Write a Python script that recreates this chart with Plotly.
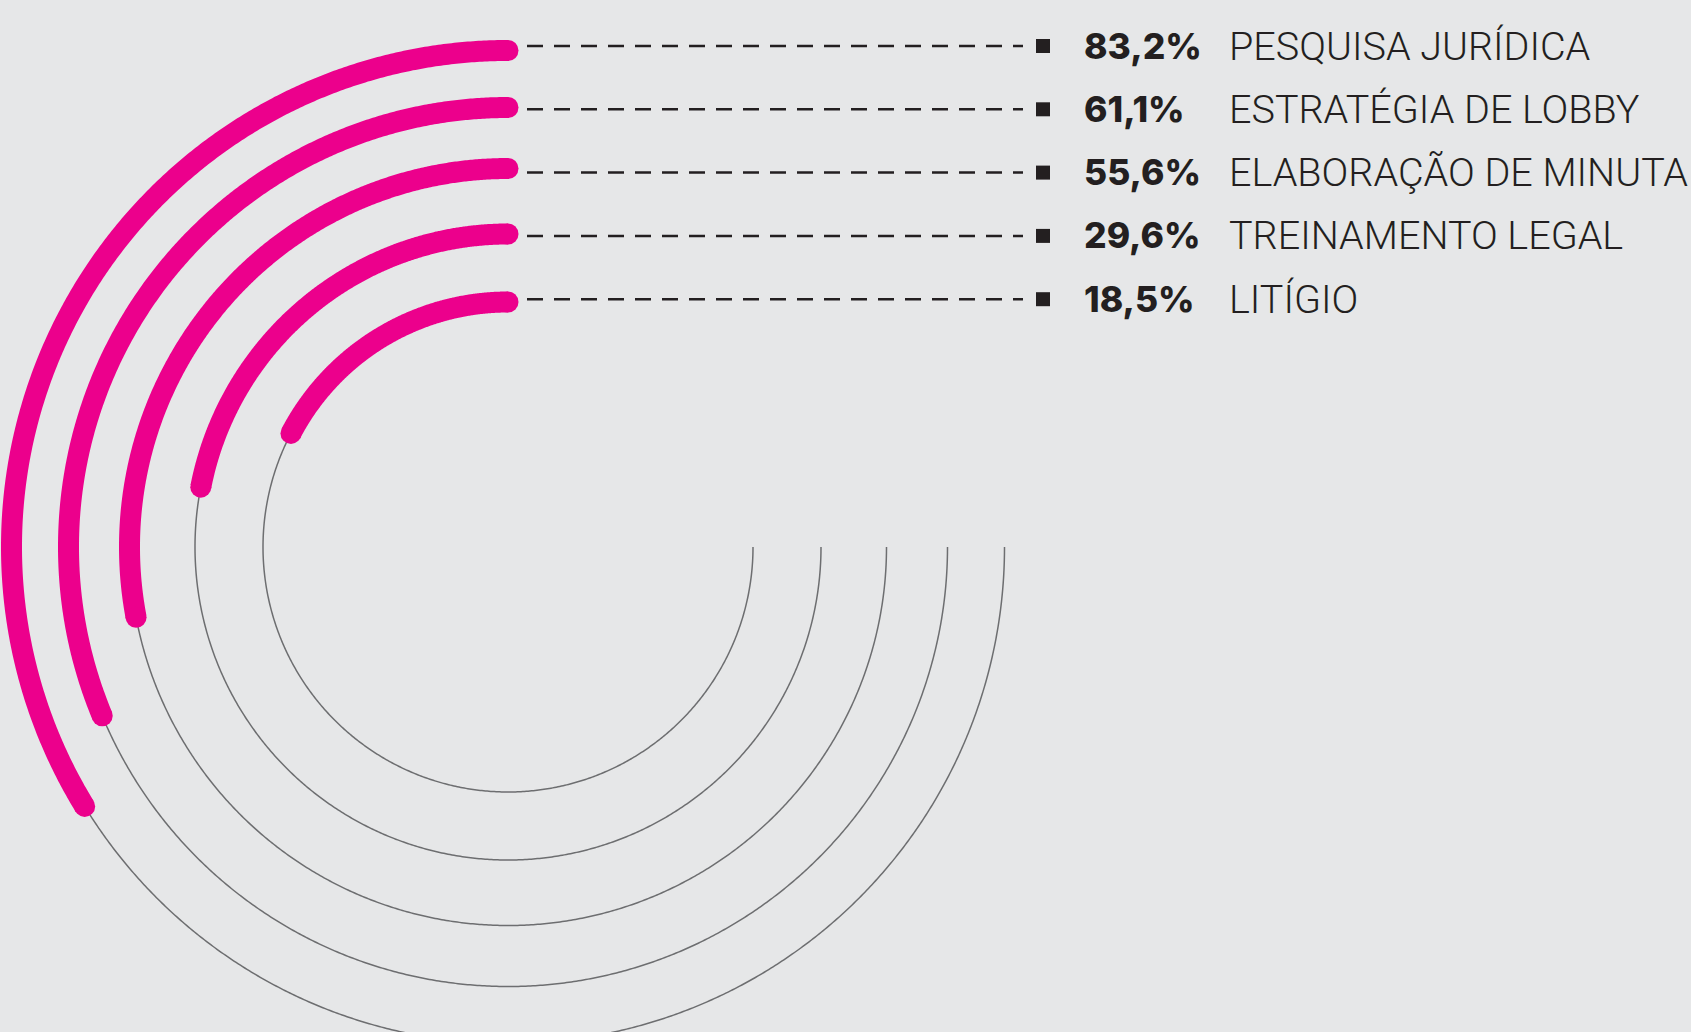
import numpy as np
import plotly.graph_objects as go

# ---------------- data ----------------
categories = ["PESQUISA JURÍDICA", "ESTRATÉGIA DE LOBBY", "ELABORAÇÃO DE MINUTA",
              "TREINAMENTO LEGAL", "LITÍGIO"]
values = [83.2, 61.1, 55.6, 29.6, 18.5]
value_labels = ["83,2%", "61,1%", "55,6%", "29,6%", "18,5%"]
# extent of each pink arc as drawn in the original graphic (% of the 270° track)
arc_drawn_pct = [45.0, 41.7, 37.3, 29.25, 23.1]

# ---------------- layout constants ----------------
W, H = 1691, 1032
CX, CY = 508, 547          # centre of the rings (axis units = px)
RING_R = [496.5, 439.5, 378.5, 313, 245]
TRACK_DEG = 270
PINK = "#ec008c"
GRAY = "#6d6e70"
INK = "#231f20"
BG = "#e6e7e8"
ROW0, ROW_STEP = 46, 63.3
DASH_X = (527, 1023)
SQUARE_X = 1043
VALUE_X, LABEL_X = 1082, 1227


def arc_xy(radius, deg_from, deg_to, n):
    """Points of an arc measured counter-clockwise from 12 o'clock."""
    phi = np.radians(np.linspace(deg_from, deg_to, n))
    return CX - radius * np.sin(phi), CY - radius * np.cos(phi)


fig = go.Figure()

# gray tracks (remaining part of the 270° track)
for i, cat in enumerate(categories):
    sweep = arc_drawn_pct[i] / 100 * TRACK_DEG
    x, y = arc_xy(RING_R[i], sweep, TRACK_DEG, 500)
    fig.add_trace(go.Scatter(x=x, y=y, mode="lines",
                             line=dict(color=GRAY, width=1.5, simplify=False),
                             hoverinfo="skip", showlegend=False))

# pink arcs with round caps
for i, cat in enumerate(categories):
    sweep = arc_drawn_pct[i] / 100 * TRACK_DEG
    x, y = arc_xy(RING_R[i], 0, sweep, 400)
    fig.add_trace(go.Scatter(x=x, y=y, mode="lines",
                             line=dict(color=PINK, width=21, simplify=False),
                             name=f"{cat} {value_labels[i]}", hoverinfo="name",
                             showlegend=False))
    fig.add_trace(go.Scatter(x=[x[0], x[-1]], y=[y[0], y[-1]], mode="markers",
                             marker=dict(size=21, color=PINK, line=dict(width=0)),
                             cliponaxis=False, hoverinfo="skip", showlegend=False))

# legend rows: dashed leaders, squares and texts
row_y = [ROW0 + ROW_STEP * i for i in range(len(categories))]
for yy in row_y:
    fig.add_trace(go.Scatter(x=list(DASH_X), y=[yy, yy], mode="lines",
                             line=dict(color=INK, width=2.5, dash="16px,11px"),
                             hoverinfo="skip", showlegend=False))
fig.add_trace(go.Scatter(x=[SQUARE_X] * len(row_y), y=row_y, mode="markers",
                         marker=dict(symbol="square", size=14, color=INK, line=dict(width=0)),
                         cliponaxis=False, hoverinfo="skip", showlegend=False))

annotations = []
for i, yy in enumerate(row_y):
    annotations.append(dict(x=VALUE_X, y=yy, xref="x", yref="y", text=value_labels[i],
                            showarrow=False, xanchor="left", yanchor="middle",
                            font=dict(family="Inter", size=35.5, color=INK, weight=800)))
    annotations.append(dict(x=LABEL_X, y=yy, xref="x", yref="y", text=categories[i],
                            showarrow=False, xanchor="left", yanchor="middle",
                            font=dict(family="Roboto", size=39.5, color=INK, weight=300)))

fig.update_layout(
    width=W, height=H, autosize=False,
    margin=dict(l=0, r=0, t=0, b=0),
    paper_bgcolor=BG, plot_bgcolor=BG,
    xaxis=dict(range=[0, W], visible=False, fixedrange=True, domain=[0, 1]),
    yaxis=dict(range=[H, 0], visible=False, fixedrange=True, domain=[0, 1]),
    annotations=annotations,
    showlegend=False,
)

fig.write_html(
    "out.html",
    config={"displayModeBar": False},
    post_script="document.body.style.margin='0';document.body.style.overflow='hidden';"
                "document.body.style.background='" + BG + "';",
)
